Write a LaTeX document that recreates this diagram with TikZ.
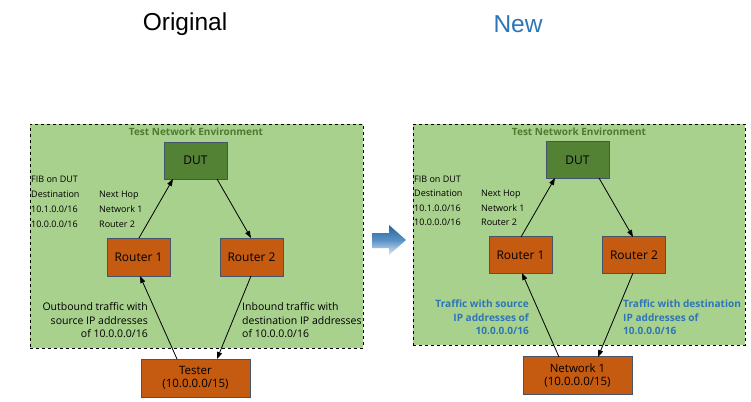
\documentclass[tikz,border=0pt]{standalone}
\usepackage{fontspec}
\setmainfont{Open Sans}
\newfontfamily\titlefont{Liberation Sans}
\usetikzlibrary{arrows.meta,shadings}
\definecolor{envgreen}{HTML}{A9D18E}
\definecolor{dutgreen}{HTML}{548235}
\definecolor{boxorange}{HTML}{C55A11}
\definecolor{boxedge}{HTML}{44546A}
\definecolor{titlegreen}{HTML}{4E7A2F}
\definecolor{newblue}{HTML}{2E75B6}
\begin{document}
\begin{tikzpicture}[x=1pt,y=-1pt,
  env/.style={draw=black,dashed,fill=envgreen,line width=0.8pt},
  dutbox/.style={draw=boxedge,fill=dutgreen,line width=0.6pt,minimum width=63pt,minimum height=37pt,inner sep=0pt,font=\fontsize{12}{14}\selectfont},
  rtbox/.style={draw=boxedge,fill=boxorange,line width=0.6pt,minimum width=63pt,minimum height=38pt,inner sep=0pt,font=\fontsize{12}{14}\selectfont},
  hostbox/.style={draw=boxedge,fill=boxorange,line width=0.6pt,minimum width=109pt,minimum height=38pt,inner sep=0pt,align=center,font=\fontsize{11.5}{13.5}\selectfont},
  envtitle/.style={font=\bfseries\fontsize{10}{12}\selectfont,text=titlegreen},
  fib/.style={font=\fontsize{9}{14.5}\selectfont,anchor=base west,inner sep=0pt},
  lbl/.style={font=\fontsize{10.5}{13.5}\selectfont,inner sep=0pt},
  bluelbl/.style={font=\bfseries\fontsize{10.1}{13.5}\selectfont,text=newblue,inner sep=0pt},
  link/.style={-{Triangle[length=7pt,width=5pt]},line width=0.8pt},
  heading/.style={font=\titlefont\fontsize{24.5}{28}\selectfont}
]
\useasboundingbox (0,0) rectangle (751,401);
% headings
\node[heading] (hOrig) at (185,24) {Original};
\node[heading,text=newblue] (hNew) at (518,24) {New};

% ---------- left panel ----------
\node[env,minimum width=333pt,minimum height=224pt,inner sep=0pt] (envL) at (196.5,236) {};
\node[envtitle] (tL) at (196,132) {Test Network Environment};
\node[dutbox] (dutL) at (195.5,160.5) {DUT};
\node[rtbox] (r1L) at (138.5,257) {Router 1};
\node[rtbox] (r2L) at (251.5,257) {Router 2};
\node[hostbox] (testL) at (195.5,378) {Tester\\(10.0.0.0/15)};
\node[fib] (fibL1) at (31,182) {FIB on DUT};
\node[fib] (fibL2) at (31,197) {Destination};
\node[fib] (fibL3) at (31,212) {10.1.0.0/16};
\node[fib] (fibL4) at (31,227) {10.0.0.0/16};
\node[fib] (fibL5) at (99,197) {Next Hop};
\node[fib] (fibL6) at (99,212) {Network 1};
\node[fib] (fibL7) at (99,227) {Router 2};
\node[lbl,align=right,anchor=east] (outL) at (148,320.5) {Outbound traffic with\\source IP addresses\\of 10.0.0.0/16};
\node[lbl,align=left,anchor=west] (inL) at (242,320.5) {Inbound traffic with\\destination IP addresses\\of 10.0.0.0/16};
\coordinate (aL1s) at (139,238);
\coordinate (aL1e) at (173,179);
\coordinate (aL2s) at (217,179);
\coordinate (aL2e) at (251,238);
\coordinate (aL3s) at (177,359);
\coordinate (aL3e) at (140,276);
\coordinate (aL4s) at (251,276);
\coordinate (aL4e) at (217,359);
\draw[link] (aL1s) -- (aL1e);
\draw[link] (aL2s) -- (aL2e);
\draw[link] (aL3s) -- (aL3e);
\draw[link] (aL4s) -- (aL4e);

% ---------- transition arrow ----------
\shade[top color=newblue!85!black,bottom color=newblue!15!white,middle color=newblue!80!white]
  (372,233) -- (389,233) -- (389,225) -- (406,240) -- (389,255) -- (389,248) -- (372,248) -- cycle;

% ---------- right panel ----------
\node[env,minimum width=332pt,minimum height=221pt,inner sep=0pt] (envR) at (579,234.5) {};
\node[envtitle] (tR) at (579,132) {Test Network Environment};
\node[dutbox] (dutR) at (577.5,160) {DUT};
\node[rtbox,minimum height=37pt] (r1R) at (520.5,255) {Router 1};
\node[rtbox,minimum height=37pt] (r2R) at (634,255) {Router 2};
\node[hostbox] (netR) at (577.5,375.5) {Network 1\\(10.0.0.0/15)};
\node[fib] (fibR1) at (414,182) {FIB on DUT};
\node[fib] (fibR2) at (414,196) {Destination};
\node[fib] (fibR3) at (414,211) {10.1.0.0/16};
\node[fib] (fibR4) at (414,225) {10.0.0.0/16};
\node[fib] (fibR5) at (481,196) {Next Hop};
\node[fib] (fibR6) at (481,211) {Network 1};
\node[fib] (fibR7) at (481,225) {Router 2};
\node[bluelbl,align=right,anchor=east] (outR) at (529,317.5) {Traffic with source\\IP addresses of\\10.0.0.0/16};
\node[bluelbl,align=left,anchor=west] (inR) at (623,317.5) {Traffic with destination\\IP addresses of\\10.0.0.0/16};
\coordinate (aR1s) at (521,237);
\coordinate (aR1e) at (555,178);
\coordinate (aR2s) at (599,178);
\coordinate (aR2e) at (633,237);
\coordinate (aR3s) at (559,357);
\coordinate (aR3e) at (522,273);
\coordinate (aR4s) at (633,273);
\coordinate (aR4e) at (598,357);
\draw[link] (aR1s) -- (aR1e);
\draw[link] (aR2s) -- (aR2e);
\draw[link] (aR3s) -- (aR3e);
\draw[link] (aR4s) -- (aR4e);
\end{tikzpicture}
\end{document}
